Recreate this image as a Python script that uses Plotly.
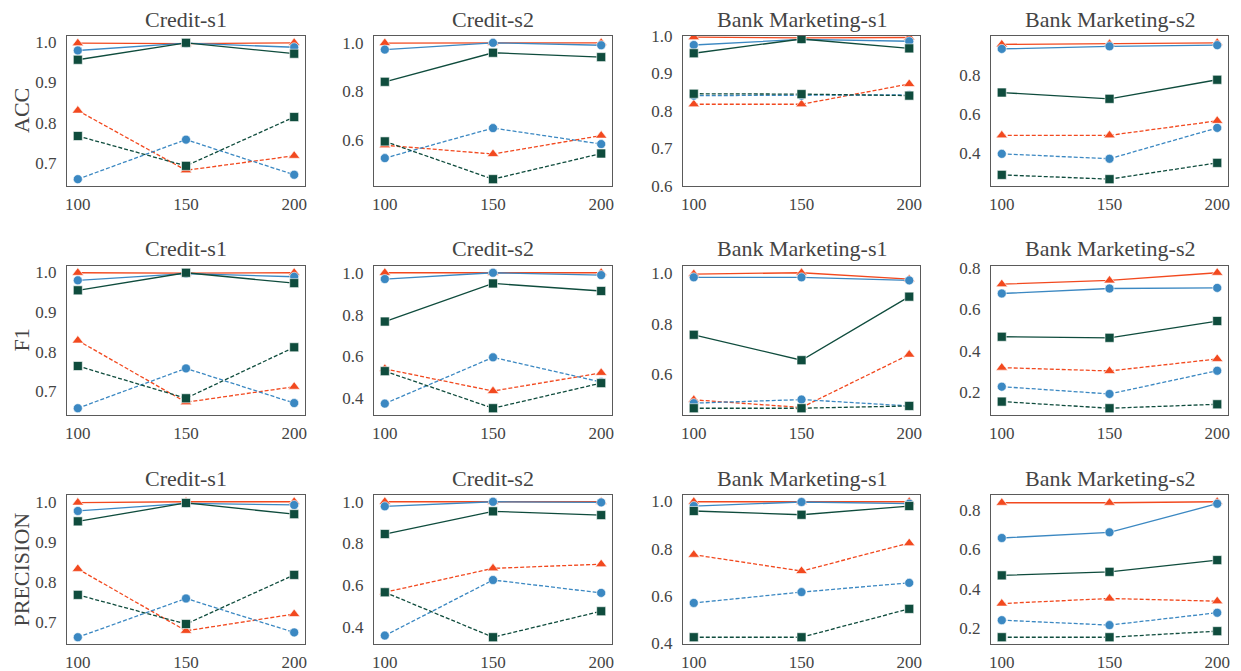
import plotly.graph_objects as go

X = [100, 150, 200]
METRICS = ["ACC", "F1", "PRECISION"]
DATASETS = ["Credit-s1", "Credit-s2", "Bank Marketing-s1", "Bank Marketing-s2"]
SERIES = ["red solid", "blue solid", "green solid", "red dashed", "blue dashed", "green dashed"]

# each panel: [red solid, blue solid, green solid, red dashed, blue dashed, green dashed]
ACC_CREDIT_S1 = [[0.997, 0.996, 0.998], [0.979, 0.997, 0.987], [0.956, 0.998, 0.971],
                 [0.830, 0.682, 0.718], [0.660, 0.758, 0.671], [0.767, 0.693, 0.814]]
ACC_CREDIT_S2 = [[0.999, 1.000, 1.000], [0.972, 1.000, 0.990], [0.839, 0.959, 0.941],
                 [0.577, 0.541, 0.617], [0.524, 0.648, 0.582], [0.593, 0.437, 0.543]]
ACC_BANK_S1 = [[0.997, 0.995, 0.996], [0.976, 0.991, 0.986], [0.954, 0.992, 0.967],
               [0.818, 0.818, 0.872], [0.841, 0.841, 0.843], [0.846, 0.845, 0.841]]
ACC_BANK_S2 = [[0.955, 0.958, 0.963], [0.932, 0.945, 0.951], [0.710, 0.678, 0.775],
               [0.492, 0.492, 0.566], [0.398, 0.373, 0.530], [0.291, 0.269, 0.352]]

F1_CREDIT_S1 = [[0.998, 0.997, 0.998], [0.979, 0.996, 0.988], [0.954, 0.998, 0.972],
                [0.828, 0.673, 0.712], [0.658, 0.758, 0.671], [0.764, 0.683, 0.811]]
F1_CREDIT_S2 = [[1.000, 1.000, 1.000], [0.970, 1.000, 0.989], [0.767, 0.949, 0.913],
                [0.541, 0.435, 0.522], [0.375, 0.596, 0.478], [0.530, 0.353, 0.473]]
F1_BANK_S1 = [[0.995, 1.000, 0.975], [0.982, 0.982, 0.970], [0.756, 0.656, 0.906],
              [0.500, 0.470, 0.678], [0.487, 0.501, 0.476], [0.467, 0.467, 0.476]]
F1_BANK_S2 = [[0.722, 0.740, 0.777], [0.677, 0.701, 0.704], [0.468, 0.463, 0.544],
              [0.319, 0.303, 0.361], [0.227, 0.192, 0.304], [0.155, 0.123, 0.142]]

PREC_CREDIT_S1 = [[0.998, 1.000, 1.000], [0.977, 0.996, 0.992], [0.951, 0.997, 0.969],
                  [0.832, 0.677, 0.719], [0.661, 0.758, 0.673], [0.767, 0.694, 0.817]]
PREC_CREDIT_S2 = [[1.000, 1.000, 1.000], [0.978, 1.000, 0.997], [0.845, 0.954, 0.936],
                  [0.565, 0.680, 0.700], [0.357, 0.624, 0.562], [0.565, 0.349, 0.474]]
PREC_BANK_S1 = [[0.998, 0.997, 0.998], [0.980, 0.997, 0.990], [0.959, 0.943, 0.980],
                [0.774, 0.705, 0.823], [0.570, 0.616, 0.655], [0.425, 0.425, 0.545]]
PREC_BANK_S2 = [[0.839, 0.839, 0.844], [0.659, 0.688, 0.834], [0.468, 0.486, 0.546],
                [0.324, 0.350, 0.336], [0.239, 0.214, 0.277], [0.152, 0.152, 0.183]]

PANELS = [
    [ACC_CREDIT_S1, ACC_CREDIT_S2, ACC_BANK_S1, ACC_BANK_S2],
    [F1_CREDIT_S1, F1_CREDIT_S2, F1_BANK_S1, F1_BANK_S2],
    [PREC_CREDIT_S1, PREC_CREDIT_S2, PREC_BANK_S1, PREC_BANK_S2],
]

# ---------------- styling ----------------
W, H = 1241, 671
COL_PX = [(67, 305), (374, 612), (683, 920), (991, 1228)]
ROW_PX = [(36, 186), (266, 415), (495, 644)]
RED, BLUE, GREEN = "#F2491F", "#3B88C2", "#0F4C3D"
STYLES = [
    (RED, "solid", "triangle-up"), (BLUE, "solid", "circle"), (GREEN, "solid", "square"),
    (RED, "4px,2px", "triangle-up"), (BLUE, "4px,2px", "circle"), (GREEN, "4px,2px", "square"),
]
DTICKS = [[0.1, 0.2, 0.1, 0.2], [0.1, 0.2, 0.2, 0.2], [0.1, 0.2, 0.2, 0.2]]
FIXED = {(0, 2): [0.6, 1.0]}
FONT = "Liberation Serif"
TXT = "#444444"

fig = go.Figure()
layout = dict(
    width=W, height=H, margin=dict(l=0, r=0, t=0, b=0, autoexpand=False),
    paper_bgcolor="white", plot_bgcolor="white", showlegend=False,
    font=dict(family=FONT, color=TXT, size=16),
)
annotations = []
for r in range(3):
    for c in range(4):
        k = r * 4 + c + 1
        xa = "x" if k == 1 else f"x{k}"
        ya = "y" if k == 1 else f"y{k}"
        data = PANELS[r][c]
        for i, vals in enumerate(data):
            color, dash, sym = STYLES[i]
            fig.add_trace(go.Scatter(
                x=X, y=vals, xaxis=xa, yaxis=ya, mode="lines+markers",
                name=SERIES[i],
                line=dict(color=color, width=1.3, dash=dash),
                marker=dict(symbol=sym, size=9 if sym != "triangle-up" else 10, color=color,
                            line=dict(color="white", width=0.6)),
            ))
        allv = [v for s in data for v in s]
        lo, hi = min(allv), max(allv)
        span = hi - lo
        yr = FIXED.get((r, c), [lo - 0.05 * span, hi + 0.05 * span])
        x0, x1 = COL_PX[c]
        y0, y1 = ROW_PX[r]
        axis_common = dict(showline=True, mirror=True, linecolor="#5a5a5a", linewidth=1.3,
                           showgrid=False, zeroline=False, automargin=False,
                           tickfont=dict(family=FONT, size=17, color=TXT))
        layout[f"xaxis{'' if k == 1 else k}"] = dict(
            domain=[x0 / W, x1 / W], range=[95, 205], anchor=ya,
            tickvals=X, ticks="outside", ticklen=2, tickcolor="rgba(0,0,0,0)", **axis_common)
        layout[f"yaxis{'' if k == 1 else k}"] = dict(
            domain=[1 - y1 / H, 1 - y0 / H], range=yr, anchor=xa,
            dtick=DTICKS[r][c], tick0=0, tickformat=".1f",
            ticks="outside", ticklen=6, tickcolor="rgba(0,0,0,0)", **axis_common)
        annotations.append(dict(
            text=DATASETS[c], xref="paper", yref="paper",
            x=(x0 + x1) / 2 / W, y=1 - (y0 - 17) / H, xanchor="center", yanchor="middle",
            showarrow=False, font=dict(family=FONT, size=22, color=TXT)))
    annotations.append(dict(
        text=METRICS[r], xref="paper", yref="paper", textangle=-90,
        x=21 / W, y=1 - (ROW_PX[r][0] + ROW_PX[r][1]) / 2 / H, xanchor="center", yanchor="middle",
        showarrow=False, font=dict(family=FONT, size=22, color=TXT)))

layout["annotations"] = annotations
fig.update_layout(**layout)
fig.write_html("out.html", config={"displayModeBar": False},
               post_script="document.body.style.margin='0';document.body.style.overflow='hidden';")
